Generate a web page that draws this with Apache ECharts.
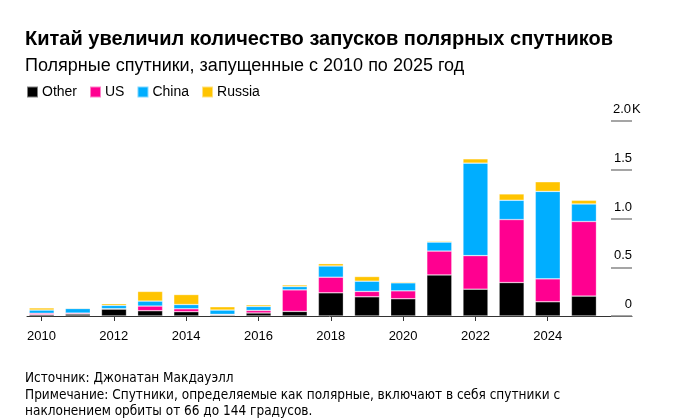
<!DOCTYPE html>
<html>
<head>
<meta charset="utf-8">
<script src="https://cdn.jsdelivr.net/npm/echarts@6/dist/echarts.min.js"></script>
<style>
html,body{margin:0;padding:0;background:#fff;}
#chart{width:673px;height:419px;}
</style>
</head>
<body>
<div id="chart"></div>
<script>
const years = ['2010','2011','2012','2013','2014','2015','2016','2017','2018','2019','2020','2021','2022','2023','2024','2025'];
const otherVals  = [14, 20, 71, 54, 44, 10, 31, 47, 238, 197, 177, 421, 275, 343, 146, 204];
const usVals     = [14, 10, 4, 48, 30, 7, 26, 221, 160, 55, 81, 245, 344, 646, 235, 765];
const chinaVals  = [33, 47, 34, 51, 44, 44, 41, 34, 115, 105, 82, 92, 949, 198, 897, 180];
const russiaVals = [22, 7, 17, 99, 102, 34, 17, 17, 24, 48, 10, 10, 44, 65, 99, 38];
const xTickLabels = [2010,2012,2014,2016,2018,2020,2022,2024];
const yTickLabels = {0:'{r|0}',500:'{r|0.5}',1000:'{r|1.0}',1500:'{r|1.5}',2000:'{r|2.0}{k|K}'};

const seriesNames = ['Other','US','China','Russia'];
const seriesColors = ['#000000','#ff0090','#00aeff','#ffc400'];
const seriesVals = [otherVals, usVals, chinaVals, russiaVals];

const font = '"Liberation Sans", Arial, sans-serif';
const chart = echarts.init(document.getElementById('chart'));
chart.setOption({
  animation:false,
  textStyle:{fontFamily:font},
  title:[
    {text:'Китай увеличил количество запусков полярных спутников', left:20, top:24,
     textStyle:{fontSize:20, fontWeight:'bold', color:'#000', fontFamily:font}},
    {text:'Полярные спутники, запущенные с 2010 по 2025 год', left:20, top:52,
     textStyle:{fontSize:18, fontWeight:'normal', color:'#000', fontFamily:font}},
    {text:'Источник: Джонатан Макдауэлл\nПримечание: Спутники, определяемые как полярные, включают в себя спутники с\nнаклонением орбиты от 66 до 144 градусов.',
     left:20, top:365,
     textStyle:{fontSize:13.5, fontWeight:'normal', color:'#000', lineHeight:16.7,
       fontFamily:'"Liberation Sans Narrow", "DejaVu Sans Condensed", sans-serif'}}
  ],
  legend:{
    data:seriesNames, left:21, top:80, icon:'rect', itemWidth:11, itemHeight:11, itemGap:12,
    textStyle:{fontSize:14, color:'#000', fontFamily:font, padding:[0,0,0,-1]}
  },
  grid:[
    {left:23.6, right:71, top:121, bottom:103},
    {left:27, right:41, top:121, bottom:103}
  ],
  xAxis:[
    {type:'category', gridIndex:0, data:years, show:false, boundaryGap:true},
    {type:'value', gridIndex:1, min:2009.6, max:2026.33,
     axisLine:{show:true, lineStyle:{color:'#333', width:1}},
     axisTick:{show:true, customValues:xTickLabels, length:5, lineStyle:{color:'#333'}},
     axisLabel:{show:true, customValues:xTickLabels, formatter:v=>String(v), fontSize:13, color:'#000', margin:14},
     splitLine:{show:false}}
  ],
  yAxis:[
    {type:'value', gridIndex:0, min:0, max:2000, show:false, splitLine:{show:false}},
    {type:'value', gridIndex:1, position:'right', min:0, max:2000, interval:500,
     axisLine:{show:false},
     axisTick:{show:true, inside:true, length:21, lineStyle:{color:'#888', width:1.5}},
     axisLabel:{inside:true, margin:20, align:'left', fontSize:13, color:'#000', verticalAlign:'bottom', padding:[0,0,5,0],
       formatter:v=>yTickLabels[v],
       rich:{r:{width:20, align:'right', fontSize:13, color:'#000'}, k:{fontSize:13, color:'#000'}}},
     splitLine:{show:false}}
  ],
  series: seriesNames.map((name,i)=>({
    name, type:'bar', stack:'total', barWidth:25, xAxisIndex:0, yAxisIndex:0,
    itemStyle:{color:seriesColors[i], borderColor:'rgba(255,255,255,0.5)', borderWidth:0.6},
    data: seriesVals[i]
  }))
});
</script>
</body>
</html>
